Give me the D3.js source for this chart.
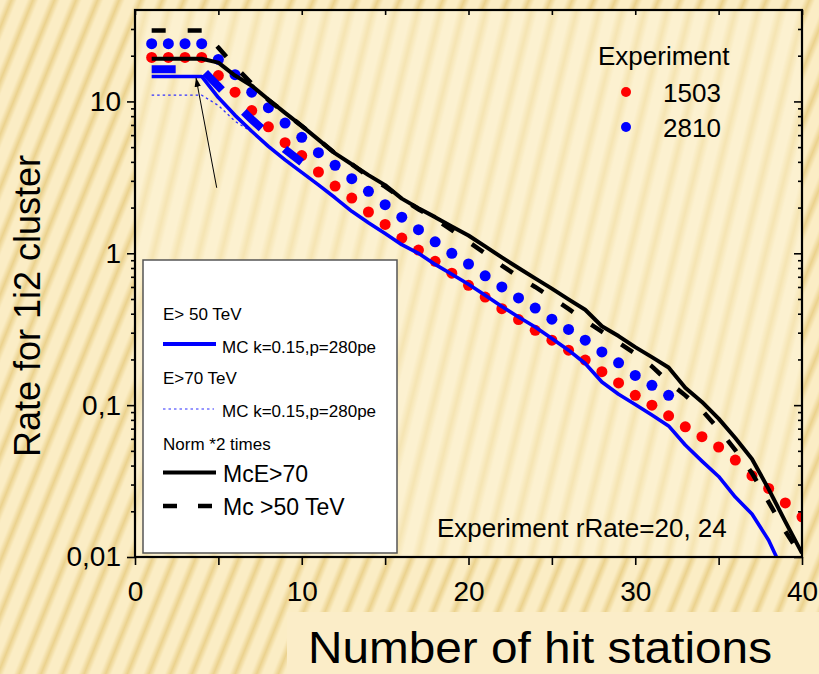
<!DOCTYPE html>
<html>
<head>
<meta charset="utf-8">
<script src="https://cdn.jsdelivr.net/npm/d3@7"></script>
<style>
  html, body { margin: 0; padding: 0; background: #FBEBC0; }
  svg { display: block; }
  text { font-family: "Liberation Sans", Arial, sans-serif; fill: #000; }
</style>
</head>
<body>
<svg id="chart" width="819" height="674"></svg>
<script>
// ---- data ----------------------------------------------------------
// Experiment 1503 (red points)
const stations1503 = [1,2,3,4,5,6,7,8,9,10,11,12,13,14,15,16,17,18,19,20,
                      21,22,23,24,25,26,27,28,29,30,31,32,33,34,35,36,37,38,39,40];
const rate1503 = [19.5,19.5,19.5,19.5,14.8,11.5,8.7,6.8,5.35,4.4,
                  3.43,2.77,2.31,1.87,1.55,1.26,1.05,0.885,0.74,0.615,
                  0.515,0.432,0.366,0.311,0.268,0.23,0.198,0.166,0.14,0.116,
                  0.1,0.085,0.072,0.062,0.053,0.0435,0.0343,0.0283,0.0227,0.0184];

// Experiment 2810 (blue points)
const stations2810 = [1,2,3,4,5,6,7,8,9,10,11,12,13,14,15,16,
                      17,18,19,20,21,22,23,24,25,26,27,28,29,30,31,32];
const rate2810 = [24,24,24,24,18.9,15,11.5,9.1,7.2,5.8,4.6,3.8,3.1,2.56,2.09,1.73,
                  1.43,1.19,1.0,0.85,0.71,0.60,0.508,0.436,0.368,0.315,0.268,0.224,0.19,0.157,0.135,0.116];

// Monte Carlo curves
const mcStations = [1,2,3,4,5,6,7,8,9,10,11,12,13,14,15,16,17,18,19,20,
                    21,22,23,24,25,26,27,28,29,30,31,32,33,34,35,36,37,38,39,40];
// McE>70, norm *2 (black solid)
const mcE70Norm = [19.1,19.1,19.1,19.1,18.0,14.8,12.7,10.3,8.4,6.9,
                   5.6,4.55,3.86,3.27,2.81,2.29,1.98,1.73,1.5,1.31,
                   1.11,0.94,0.80,0.684,0.585,0.497,0.425,0.331,0.285,0.241,
                   0.207,0.177,0.130,0.105,0.0815,0.0607,0.0442,0.028,0.0171,0.0106];
// Mc >50 TeV, norm *2 (black dashed)
const mcE50Norm = [29.3,29.3,29.3,29.3,22.6,17,13.1,10.2,8.4,6.9,
                   5.6,4.55,3.86,3.2,2.75,2.3,1.95,1.68,1.42,1.19,
                   1.0,0.83,0.70,0.60,0.51,0.43,0.36,0.305,0.258,0.218,
                   0.18,0.142,0.116,0.0926,0.0695,0.0506,0.0357,0.023,0.0148,0.01];
// E> 50 TeV, MC k=0.15, p=280pe (blue solid)
const mcStationsE50 = [1,2,3,4,5,6,7,8,9,10,11,12,13,14,15,16,17,18,19,20,
                       21,22,23,24,25,26,27,28,29,30,31,32,33,34,35,36,37,38,39];
const mcE50 = [14.6,14.6,14.6,14.6,10.6,8.1,6.36,5.06,4.12,3.41,
               2.82,2.32,1.89,1.59,1.35,1.14,1.0,0.845,0.727,0.625,
               0.53,0.446,0.381,0.327,0.275,0.23,0.188,0.142,0.118,0.101,
               0.086,0.073,0.0546,0.0428,0.0339,0.0248,0.0192,0.0129,0.0075];
// E>70 TeV, MC k=0.15, p=280pe (blue dotted)
const mcStationsE70 = [1,2,3,4,5,6,7];
const mcE70 = [11,11,11,11,9.4,7.4,6.3];
// MC reference, thick blue dashes
const mcStationsRef = [1,2,3,4,5,6,7,8,9,10];
const mcRef = [16.3,16.3,16.3,16.3,12.6,9.7,7.6,6.06,4.83,3.97];

// arrow annotation: [station, rate] from tail to tip
const arrowFrom = [4.9, 2.7];
const arrowTo = [3.66, 14.3];

// axes
const xMajor = [0, 10, 20, 30, 40];
const xMajorLabels = ["0", "10", "20", "30", "40"];
const xMinor = [5, 15, 25, 35];
const yMajor = [0.01, 0.1, 1, 10];
const yMajorLabels = ["0,01", "0,1", "1", "10"];
const yMinor = [0.02,0.03,0.04,0.05,0.06,0.07,0.08,0.09,
                0.2,0.3,0.4,0.5,0.6,0.7,0.8,0.9,
                2,3,4,5,6,7,8,9,20,30];

// ---- layout --------------------------------------------------------
const L = 135, R = 802, T = 10, B = 557;
const x = d3.scaleLinear().domain([0, 40]).range([L, R]);
const y = d3.scaleLog().domain([0.01, 40]).range([B, T]);
const zip = (a, b) => a.map((v, i) => [v, b[i]]);

const svg = d3.select("#chart");
const defs = svg.append("defs");

// soft diagonal stripes for the page and the plot area
function stripes(id, period, angle, light, dark, darkFrom, darkTo) {
  const gid = id + "-g";
  const g = defs.append("linearGradient").attr("id", gid)
    .attr("x1", "0").attr("y1", "0").attr("x2", "1").attr("y2", "0");
  g.append("stop").attr("offset", 0).attr("stop-color", light);
  g.append("stop").attr("offset", darkFrom).attr("stop-color", light);
  g.append("stop").attr("offset", (darkFrom + darkTo) / 2).attr("stop-color", dark);
  g.append("stop").attr("offset", darkTo).attr("stop-color", light);
  g.append("stop").attr("offset", 1).attr("stop-color", light);
  const p = defs.append("pattern").attr("id", id)
    .attr("patternUnits", "userSpaceOnUse")
    .attr("width", period).attr("height", period)
    .attr("patternTransform", `rotate(${angle})`);
  p.append("rect").attr("width", period).attr("height", period).attr("fill", `url(#${gid})`);
}
stripes("pageStripes", 20, 22, "#FBEDC5", "#EBD28E", 0.25, 0.8);
stripes("plotStripes", 22, 14, "#FCF1D0", "#F5E4B2", 0.25, 0.85);

defs.append("clipPath").attr("id", "plotClip")
  .append("rect").attr("x", L).attr("y", T).attr("width", R - L).attr("height", B - T);

defs.append("marker").attr("id", "arrowHead")
  .attr("viewBox", "0 0 10 10").attr("refX", 10).attr("refY", 5)
  .attr("markerWidth", 9).attr("markerHeight", 9).attr("markerUnits", "userSpaceOnUse")
  .attr("orient", "auto")
  .append("path").attr("d", "M0,1.5 L10,5 L0,8.5 Z").attr("fill", "#000");

svg.append("rect").attr("width", 819).attr("height", 674).attr("fill", "url(#pageStripes)");

// plot background
svg.append("rect").attr("x", L).attr("y", T).attr("width", R - L).attr("height", B - T)
  .attr("fill", "url(#plotStripes)");

// ---- marks ---------------------------------------------------------
const plot = svg.append("g").attr("clip-path", "url(#plotClip)");

plot.selectAll("circle.e1503").data(zip(stations1503, rate1503)).join("circle")
  .attr("class", "e1503").attr("cx", d => x(d[0])).attr("cy", d => y(d[1]))
  .attr("r", 5.5).attr("fill", "#FF0000");
plot.selectAll("circle.e2810").data(zip(stations2810, rate2810)).join("circle")
  .attr("class", "e2810").attr("cx", d => x(d[0])).attr("cy", d => y(d[1]))
  .attr("r", 5.5).attr("fill", "#0000FF");

const line = d3.line().x(d => x(d[0])).y(d => y(d[1]));

plot.append("path").datum(zip(mcStationsE70, mcE70)).attr("d", line)
  .attr("fill", "none").attr("stroke", "#2F2FFF").attr("stroke-width", 1.3)
  .attr("stroke-dasharray", "2.5,3");
plot.append("path").datum(zip(mcStationsE50, mcE50)).attr("d", line)
  .attr("fill", "none").attr("stroke", "#0000FF").attr("stroke-width", 3.6)
  .attr("stroke-linejoin", "round");
plot.append("path").datum(zip(mcStationsRef, mcRef)).attr("d", line)
  .attr("fill", "none").attr("stroke", "#0000FF").attr("stroke-width", 8)
  .attr("stroke-dasharray", "24,31");
plot.append("path").datum(zip(mcStations, mcE70Norm)).attr("d", line)
  .attr("fill", "none").attr("stroke", "#000").attr("stroke-width", 4)
  .attr("stroke-linejoin", "round");
plot.append("path").datum(zip(mcStations, mcE50Norm)).attr("d", line)
  .attr("fill", "none").attr("stroke", "#000").attr("stroke-width", 4.5)
  .attr("stroke-dasharray", "14,22");

// arrow
svg.append("line")
  .attr("x1", x(arrowFrom[0])).attr("y1", y(arrowFrom[1]))
  .attr("x2", x(arrowTo[0])).attr("y2", y(arrowTo[1]))
  .attr("stroke", "#000").attr("stroke-width", 1)
  .attr("marker-end", "url(#arrowHead)");

// ---- axes ----------------------------------------------------------
function styleAxis(g) {
  g.select(".domain").remove();
  g.selectAll(".tick line").attr("stroke", "#000").attr("stroke-width", 1.6);
  g.selectAll(".tick text").attr("font-size", 28)
    .attr("font-family", '"Liberation Sans", Arial, sans-serif').attr("fill", "#000");
}

svg.append("g").attr("transform", `translate(${L},0)`)
  .call(d3.axisLeft(y).tickValues(yMajor).tickFormat((d, i) => yMajorLabels[i])
    .tickSize(8).tickPadding(6)).call(styleAxis);
svg.append("g").attr("transform", `translate(${L},0)`)
  .call(d3.axisLeft(y).tickValues(yMinor).tickFormat("").tickSize(4)).call(styleAxis);

svg.append("g").attr("transform", `translate(${R},0)`)
  .call(d3.axisLeft(y).tickValues(yMajor).tickFormat("").tickSize(8)).call(styleAxis);
svg.append("g").attr("transform", `translate(${R},0)`)
  .call(d3.axisLeft(y).tickValues(yMinor).tickFormat("").tickSize(4)).call(styleAxis);

svg.append("g").attr("transform", `translate(0,${B})`)
  .call(d3.axisBottom(x).tickValues(xMajor).tickFormat((d, i) => xMajorLabels[i])
    .tickSize(8).tickPadding(16)).call(styleAxis);
svg.append("g").attr("transform", `translate(0,${B})`)
  .call(d3.axisBottom(x).tickValues(xMinor).tickFormat("").tickSize(8)).call(styleAxis);

svg.append("g").attr("transform", `translate(0,${T})`)
  .call(d3.axisBottom(x).tickValues(xMajor.concat(xMinor)).tickFormat("").tickSize(5)).call(styleAxis);

// frame
svg.append("rect").attr("x", L).attr("y", T).attr("width", R - L).attr("height", B - T)
  .attr("fill", "none").attr("stroke", "#000").attr("stroke-width", 2.2);

// axis titles
svg.append("text")
  .attr("transform", "translate(40,306) rotate(-90)")
  .attr("text-anchor", "middle").attr("font-size", 36)
  .text("Rate for 1i2 cluster");

svg.append("rect").attr("x", 287).attr("y", 612).attr("width", 532).attr("height", 62)
  .attr("fill", "#FBEDC8");
svg.append("text").attr("x", 308).attr("y", 663).attr("font-size", 45)
  .attr("textLength", 464).attr("lengthAdjust", "spacingAndGlyphs")
  .text("Number of hit stations");

// ---- legends -------------------------------------------------------
svg.append("text").attr("x", 598).attr("y", 65).attr("font-size", 26).text("Experiment");
svg.append("circle").attr("cx", 626).attr("cy", 92).attr("r", 5).attr("fill", "#FF0000");
svg.append("text").attr("x", 663).attr("y", 101.5).attr("font-size", 26).text("1503");
svg.append("circle").attr("cx", 626).attr("cy", 127).attr("r", 5).attr("fill", "#0000FF");
svg.append("text").attr("x", 663).attr("y", 136.5).attr("font-size", 26).text("2810");

svg.append("text").attr("x", 437).attr("y", 537).attr("font-size", 26)
  .text("Experiment rRate=20, 24");

const lg = svg.append("g");
lg.append("rect").attr("x", 143).attr("y", 260).attr("width", 254).attr("height", 293)
  .attr("fill", "#FFFFFF").attr("stroke", "#555").attr("stroke-width", 1.5);
lg.append("text").attr("x", 163).attr("y", 320).attr("font-size", 17).text("E> 50 TeV");
lg.append("line").attr("x1", 163).attr("x2", 216).attr("y1", 344).attr("y2", 344)
  .attr("stroke", "#0000FF").attr("stroke-width", 4);
lg.append("text").attr("x", 222).attr("y", 352.5).attr("font-size", 17).text("MC k=0.15,p=280pe");
lg.append("text").attr("x", 163).attr("y", 384).attr("font-size", 17).text("E>70 TeV");
lg.append("line").attr("x1", 163).attr("x2", 214).attr("y1", 409).attr("y2", 409)
  .attr("stroke", "#2F2FFF").attr("stroke-width", 1.2).attr("stroke-dasharray", "2.5,3");
lg.append("text").attr("x", 222).attr("y", 416.5).attr("font-size", 17).text("MC k=0.15,p=280pe");
lg.append("text").attr("x", 163).attr("y", 450).attr("font-size", 17).text("Norm *2 times");
lg.append("line").attr("x1", 163).attr("x2", 216).attr("y1", 472.5).attr("y2", 472.5)
  .attr("stroke", "#000").attr("stroke-width", 4);
lg.append("text").attr("x", 223).attr("y", 481.5).attr("font-size", 23).text("McE>70");
lg.append("line").attr("x1", 163).attr("x2", 214).attr("y1", 506).attr("y2", 506)
  .attr("stroke", "#000").attr("stroke-width", 4.5).attr("stroke-dasharray", "14,21");
lg.append("text").attr("x", 223).attr("y", 515).attr("font-size", 23).text("Mc >50 TeV");
</script>
</body>
</html>
